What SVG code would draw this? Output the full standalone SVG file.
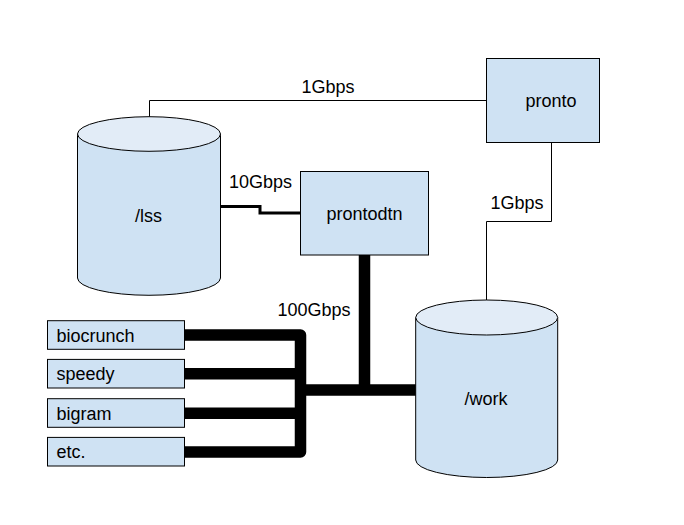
<svg xmlns="http://www.w3.org/2000/svg" width="684" height="525" viewBox="0 0 684 525">
<style>
.box{fill:#cfe2f3;stroke:#000;stroke-width:1}
.top{fill:#e2ecf7;stroke:#000;stroke-width:1}
.t{font-family:"Liberation Sans",Arial,sans-serif;font-size:18px;fill:#000}
.thin{fill:none;stroke:#000;stroke-width:1}
.mid{fill:none;stroke:#000;stroke-width:3}
.thick{fill:none;stroke:#000;stroke-width:11.5;stroke-linejoin:round}
</style>
<rect width="684" height="525" fill="#fff"/>
<g id="connectors">
<path class="thin" d="M149.5,116.7 V100.5 H487"/>
<path class="thin" d="M551.5,142.5 V221.5 H486.5 V300"/>
<path class="mid" d="M220.5,206.5 H260 V213 H300.5"/>
<path class="thick" d="M184.5,335 H300.5 V452 H184.5"/>
<path class="thick" d="M184.5,373.8 H300.5"/>
<path class="thick" d="M184.5,413.3 H300.5"/>
<path class="thick" d="M300.5,390 H416"/>
<path class="thick" d="M364.5,255 V390"/>
<text class="t" x="328" y="93" text-anchor="middle">1Gbps</text>
<text class="t" x="260.5" y="188" text-anchor="middle">10Gbps</text>
<text class="t" x="517" y="209" text-anchor="middle">1Gbps</text>
<text class="t" x="314" y="316" text-anchor="middle">100Gbps</text>
</g>
<g id="lss">
<path class="box" d="M77.5,134 V278 A71.5,17.3 0 0 0 220.5,278 V134"/>
<ellipse class="top" cx="149" cy="134" rx="71.5" ry="17.3"/>
<text class="t" x="148.5" y="221.5" text-anchor="middle">/lss</text>
</g>
<g id="work">
<path class="box" d="M415.7,317.5 V460 A71,17.5 0 0 0 557.7,460 V317.5"/>
<ellipse class="top" cx="486.7" cy="317.5" rx="71" ry="17.5"/>
<text class="t" x="486" y="405" text-anchor="middle">/work</text>
</g>
<g id="prontodtn">
<rect class="box" x="300.5" y="171.5" width="128" height="83.5"/>
<text class="t" x="364.5" y="220" text-anchor="middle">prontodtn</text>
</g>
<g id="pronto">
<rect class="box" x="486.5" y="58.5" width="113" height="84"/>
<text class="t" x="551" y="107" text-anchor="middle">pronto</text>
</g>
<g id="biocrunch">
<rect class="box" x="47.5" y="320.7" width="137" height="28.6"/>
<text class="t" x="56.5" y="341.5">biocrunch</text>
</g>
<g id="speedy">
<rect class="box" x="47.5" y="359.4" width="137" height="28.6"/>
<text class="t" x="56.5" y="380.2">speedy</text>
</g>
<g id="bigram">
<rect class="box" x="47.5" y="398.7" width="137" height="28.6"/>
<text class="t" x="56.5" y="419.5">bigram</text>
</g>
<g id="etc">
<rect class="box" x="47.5" y="437.4" width="137" height="28.6"/>
<text class="t" x="56.5" y="458.2">etc.</text>
</g>
</svg>
